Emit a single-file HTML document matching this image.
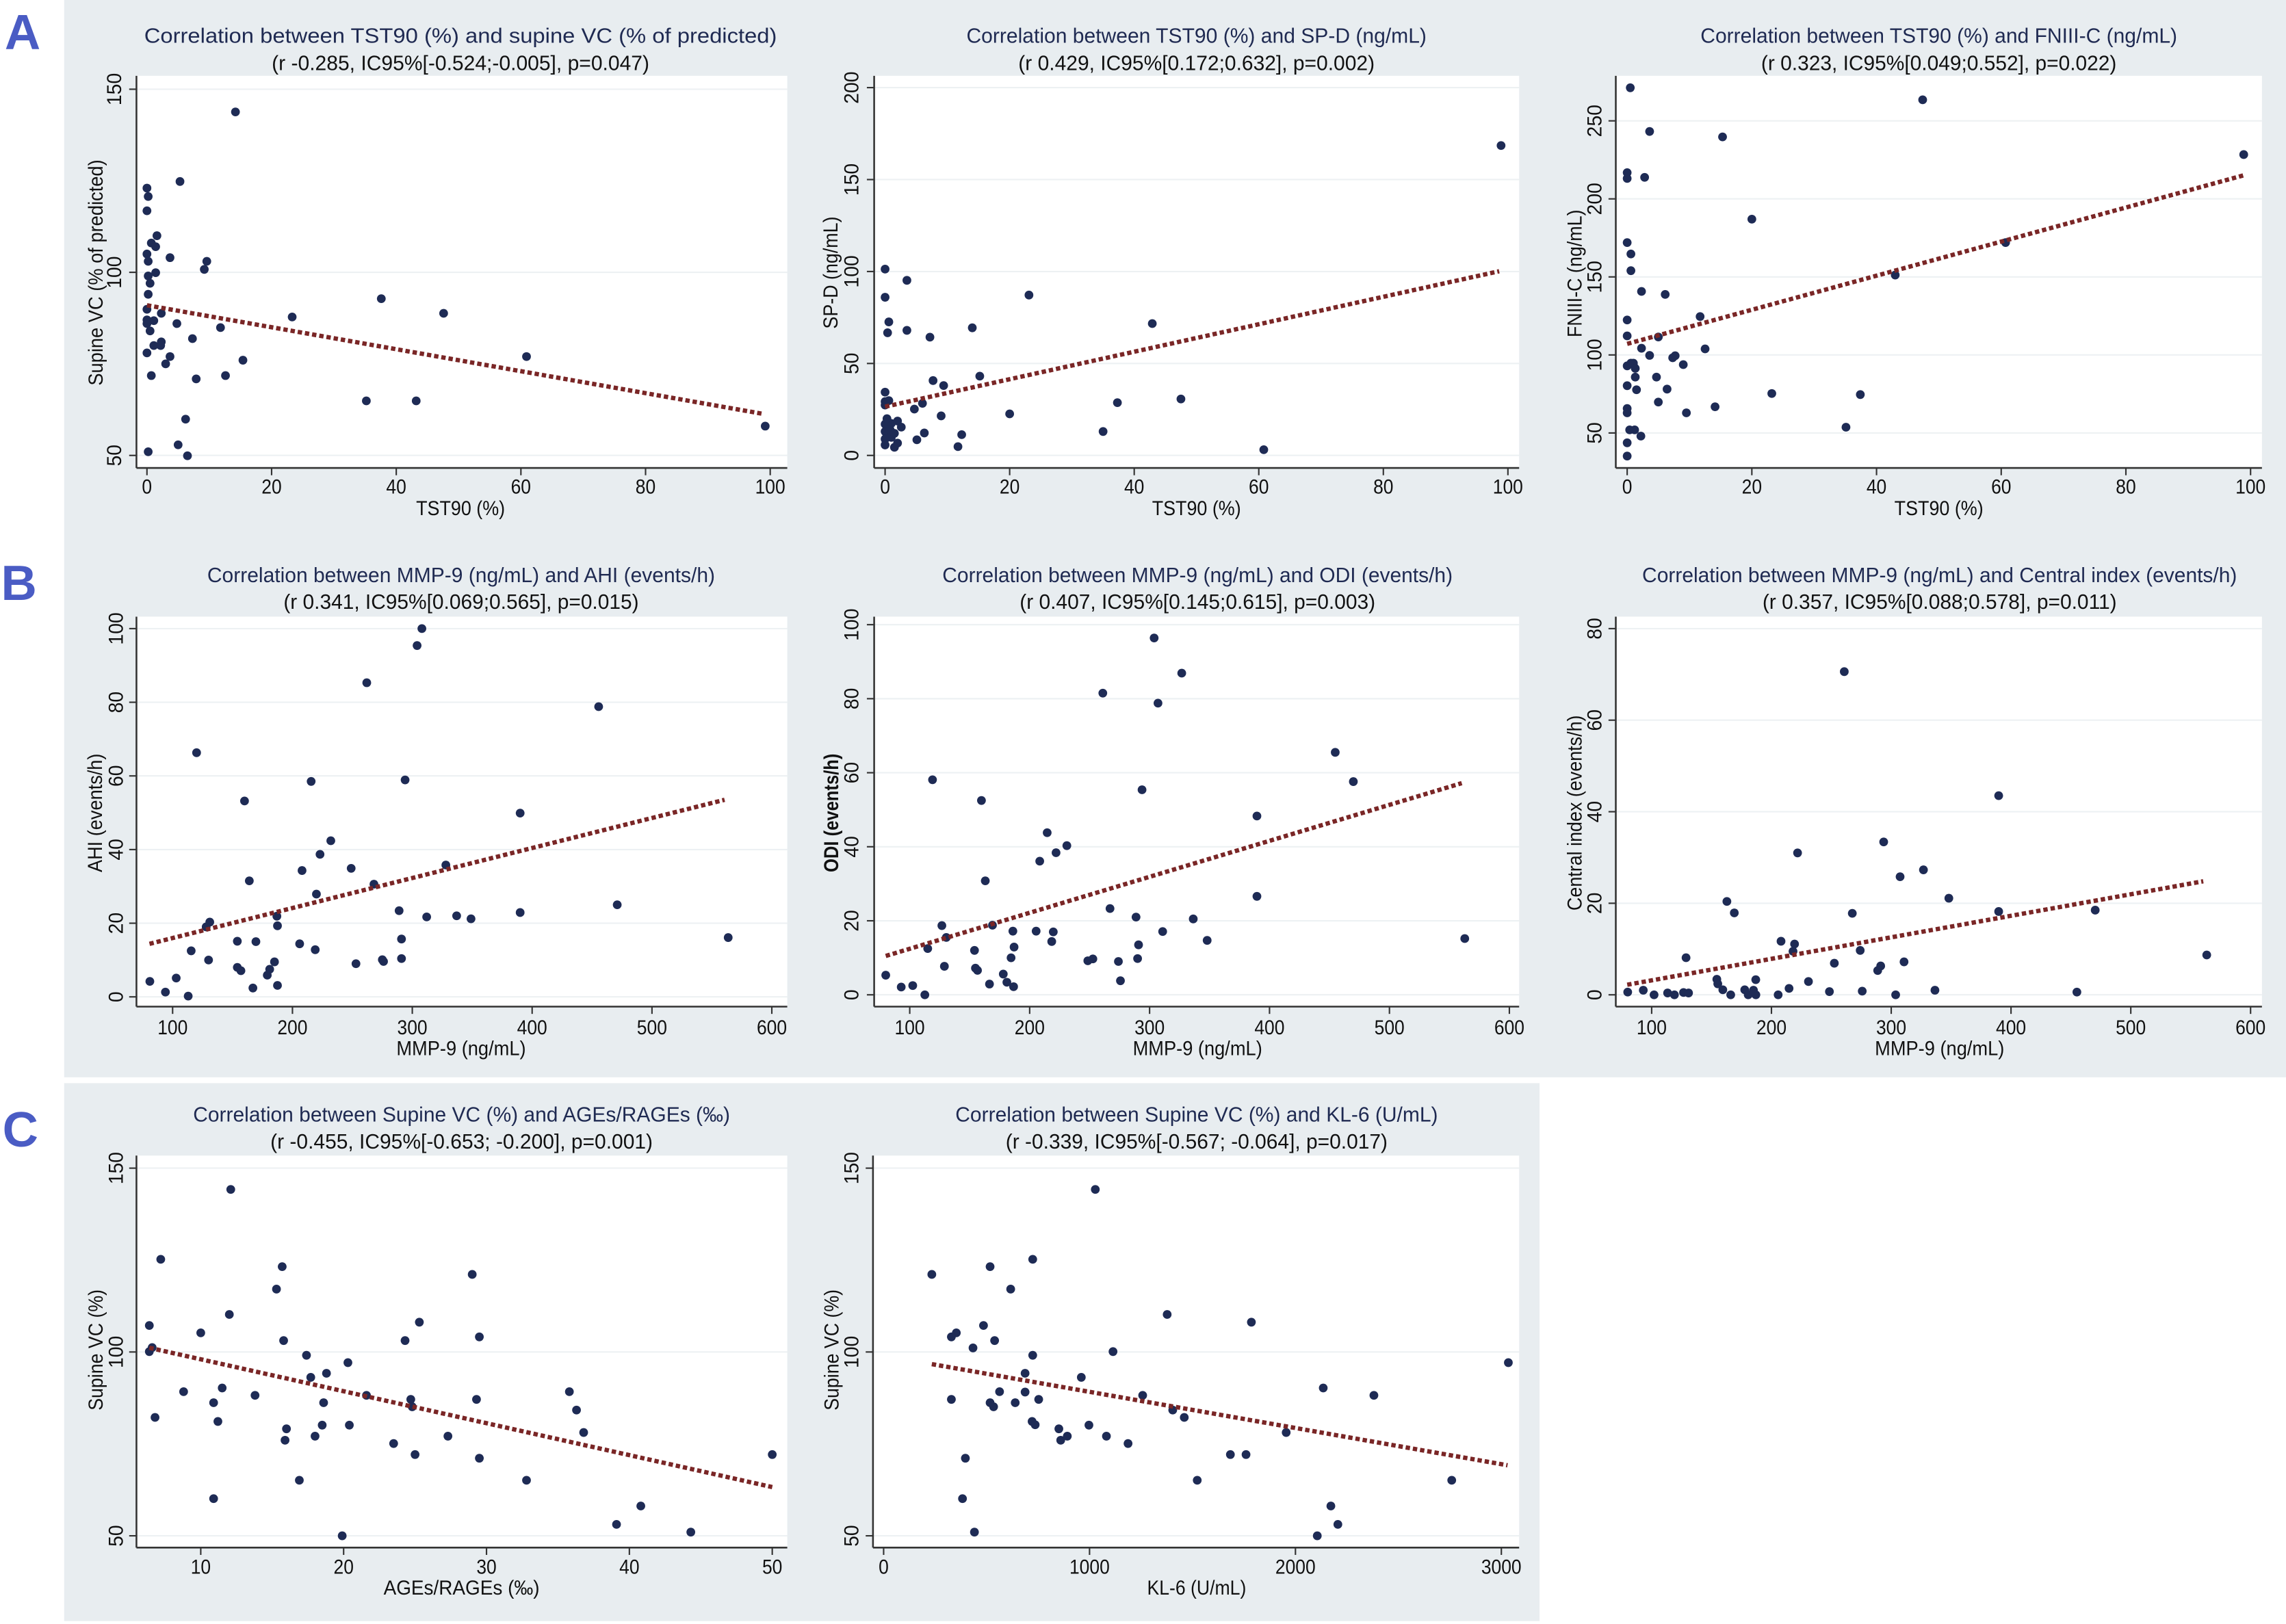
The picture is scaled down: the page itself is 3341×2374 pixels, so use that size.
<!DOCTYPE html>
<html><head><meta charset="utf-8"><title>Correlation panels</title>
<style>
html,body{margin:0;padding:0;background:#fff;}
svg{display:block;}
text{font-family:"Liberation Sans",Arial,sans-serif;}
</style></head>
<body>
<svg id="fig" xmlns="http://www.w3.org/2000/svg" width="3341" height="2374" viewBox="0 0 1568 1114" preserveAspectRatio="none">
<rect x="0" y="0" width="1568" height="1114" fill="#ffffff"/>
<rect x="44" y="0" width="1524" height="739" fill="#e8edf0"/>
<rect x="44" y="743" width="1012" height="369" fill="#e8edf0"/>
<text x="15.5" y="22" font-size="34" font-weight="bold" fill="#4a5cc4" text-anchor="middle" dominant-baseline="central">A</text>
<text x="13" y="400" font-size="34" font-weight="bold" fill="#4a5cc4" text-anchor="middle" dominant-baseline="central">B</text>
<text x="14" y="775" font-size="34" font-weight="bold" fill="#4a5cc4" text-anchor="middle" dominant-baseline="central">C</text>
</svg>
<script>
// ---------- DATA ----------
const A1X = [14.2,5.3,0,0.2,0,1.6,0.7,1.4,0,3.7,0.2,9.6,9.2,0.2,1.4,0.5,0.2,37.6,47.6,23.3,0,2.3,0,1.1,0,4.8,0.5,11.8,7.3,2.3,2.2,1.1,0,3.7,15.4,60.9,3,0.7,12.6,7.9,35.2,43.2,6.2,5,0.2,6.5,99.2];
const A1Y = [143.8,124.8,123,120.7,116.8,110,108,107,105,104,103,103,100.8,99,99.9,97,94,92.8,88.8,87.8,89.9,88.8,87,86.8,86,86,84,84.9,81.9,81,80,80,78,77,76,77,75,71.8,71.8,70.9,64.9,64.9,59.9,52.9,51,49.9,58];
const A1TREND = [91, -0.3, 0, 99];
const A1XTICKS = [0,20,40,60,80,100];
const A1YTICKS = [50,100,150];

const A2X = [98.9,0,3.5,0,23.1,0.6,0.4,3.5,7.2,14,42.9,15.2,7.7,9.4,0,0,0.6,0,6,4.7,37.3,47.5,20,9,0,1,2,2.6,0,0.4,6.3,12.3,35,0,1,5.1,2,0,1.5,11.7,60.8,0.8,1.5,0.3];
const A2Y = [168.5,101.3,95.2,86,87.2,72.6,66.7,68,64.3,69.4,71.7,43.1,40.7,38,34.4,29.3,29.8,27.4,28.3,25.2,28.7,30.7,22.6,21.5,17,17.4,18.7,15.4,13,11.7,12.2,11.3,13,8.9,9.8,8.5,6.7,5.7,4.4,4.8,3.1,14,12,20];
const A2TREND = [26.5, 0.747, 0, 98.6];
const A2XTICKS = [0,20,40,60,80,100];
const A2YTICKS = [0,50,100,150,200];

const A3X = [0.5,47.4,3.6,15.3,98.9,0,0,2.8,20,0,60.7,0.6,0.6,43,2.3,6.1,0,11.7,0,5,2.3,12.5,3.6,7.3,7.7,0,0.6,1,1.3,9,1.3,4.7,0,1.5,6.4,23.2,37.4,5,14.1,0,0,9.5,0.4,1.2,2.2,35.1,0,0];
const A3Y = [271.2,263.5,243.2,239.7,228.4,216.8,213.1,213.8,187,172,172,164.7,154,151.2,140.7,138.8,122.4,124.6,112.2,111.5,104.3,103.9,99.7,98.2,99.5,93,94.7,94.7,91.4,93.8,85.8,85.8,80.3,77.7,78.1,75.3,74.6,69.8,66.8,65.7,62.9,62.9,52,52,48,53.7,43.7,35.2];
const A3TREND = [107.1, 1.092, 0, 98.9];
const A3XTICKS = [0,20,40,60,80,100];
const A3YTICKS = [50,100,150,200,250];

const B1X = [308,304,262,455.5,120,215.6,294,160,390,232,223,328,249,208,164,268,220,471,289,390,312,337,349,187,187.5,131,128,563.6,291,154,169.5,206,219,115.5,130,185,291,275,276,253,154,157,181,179,81,103,187.5,167,94,113];
const B1Y = [100,95.4,85.3,78.8,66.3,58.5,58.9,53.2,49.9,42.4,38.7,35.8,34.9,34.3,31.5,30.6,27.9,25,23.4,22.9,21.7,22,21.2,21.9,19.3,20.3,19,16.1,15.7,15.1,15,14.4,12.8,12.5,10,9.5,10.4,10.1,9.6,9,8,7.1,7.5,5.9,4.2,5.1,3.1,2.4,1.3,0.2];
const B1TREND = [7.82, 0.0815, 80.7, 560.6];
const B1XTICKS = [100,200,300,400,500,600];
const B1YTICKS = [0,20,40,60,80,100];

const B2X = [303.8,326.8,261,307,454.8,469.9,119,293.7,159.8,389.5,214.6,231,222,208.4,163,389.5,267,288.7,336.4,126.8,169,186,205.4,219.7,310.9,130.5,562.8,348,218.4,187,290.8,115,154,184.5,252.7,248.5,274,290,128.9,154.8,156.5,178,80,166.5,181,186.6,275.7,92.9,102.5,112.6];
const B2Y = [96.4,86.9,81.5,78.8,65.5,57.6,58.1,55.4,52.5,48.3,43.8,40.3,38.4,36.1,30.8,26.6,23.3,21,20.5,18.7,18.8,17.2,17.2,17,17.1,15.5,15.2,14.7,14.4,12.9,13.5,12.5,12,10,9.7,9.2,9,9.8,7.7,7.2,6.6,5.6,5.3,2.9,3.4,2.2,3.8,2.1,2.5,0];
const B2TREND = [2.72, 0.0972, 80, 560.3];
const B2XTICKS = [100,200,300,400,500,600];
const B2YTICKS = [0,20,40,60,80,100];

const B3X = [260.8,389.7,293.7,221.8,326.9,307.4,348.1,162.8,169,267.5,389.7,470.3,208,219.3,218,274.1,563.4,128.7,310.7,252.5,291.2,288.7,154.4,155.2,186.9,230.9,214.7,80,93,102,113.3,119,126.6,130.8,159.4,166,177.7,180.6,185,187,205.6,248.4,275.8,303.7,336.5,455];
const B3Y = [70.6,43.5,33.4,31,27.3,25.8,21.1,20.4,17.9,17.8,18.2,18.5,11.7,11.1,9.5,9.7,8.7,8.1,7.2,6.9,6.3,5.3,3.4,2.4,3.3,2.9,1.4,0.6,1,0,0.4,0,0.5,0.4,1.1,0,1.1,0,1,0,0,0.7,0.8,0,1,0.6];
const B3TREND = [-1.54, 0.047, 79.6, 560.5];
const B3XTICKS = [100,200,300,400,500,600];
const B3YTICKS = [0,20,40,60,80];

const C1X = [12.1,7.2,15.7,29,15.3,12,25.3,6.4,10,29.5,15.8,24.3,6.6,6.4,17.4,20.3,17.7,18.8,11.5,8.8,13.8,21.6,24.7,29.3,35.8,10.9,18.6,24.8,36.3,6.8,11.2,18.5,20.4,16,36.8,18,27.3,15.9,23.5,25,29.5,50,16.9,32.8,10.9,40.8,39.1,44.3,19.9];
const C1Y = [144.2,125.2,123.2,121.1,117.1,110.2,108.1,107.2,105.2,104.1,103.1,103.1,101.2,100.1,99.1,97.1,93.1,94.2,90.2,89.2,88.2,88.2,87.1,87.1,89.2,86.2,86.2,85.1,84.2,82.2,81.1,80.1,80.1,79.1,78.1,77.1,77.1,76,75.1,72.1,71.1,72.1,65.1,65.1,60.1,58.1,53.1,51,50];
const C1TREND = [106.7, -0.869, 6.4, 50];
const C1XTICKS = [10,20,30,40,50];
const C1YTICKS = [50,100,150];

const C2X = [1028,724,517,234,617,1377,1786,485,353,329,539,434,1114,724,3034,687,960,2135,563,687,1258,2381,329,753,517,639,534,1404,1460,721,736,997,851,1955,892,1082,860,1187,397,1684,1760,1523,2759,383,2172,2206,441,2106];
const C2Y = [144.2,125.2,123.2,121.1,117.1,110.2,108.1,107.2,105.2,104.1,103.1,101.1,100.1,99.1,97.1,94.2,93.1,90.2,89.2,89.1,88.2,88.2,87.1,87.1,86.2,86.2,85.1,84.2,82.2,81.1,80.2,80.1,79.1,78.1,77.1,77.1,76,75.1,71.1,72.1,72.1,65.1,65.1,60.1,58.1,53.1,51,50];
const C2TREND = [99.0, -0.00984, 234, 3030];
const C2XTICKS = [0,1000,2000,3000];
const C2YTICKS = [50,100,150];

// ---------- LAYOUT (positions only) ----------
const rowA = {ay:321, top:52, tY:24.5, sY:43.2, tickLY:334, xtY:349};
const rowB = {ay:690.5, top:423, tY:394.3, sY:412.8, tickLY:705, xtY:719.3};
const rowC = {ay:1061.6, top:792.7, tY:764.5, sY:783, tickLY:1075, xtY:1089.3};

const panels = [
 {id:'a1', row:rowA, xs:A1X, ys:A1Y, tr:A1TREND, xt:A1XTICKS, yt:A1YTICKS,
  title:'Correlation between TST90 (%) and supine VC (% of predicted)', sub:'(r -0.285, IC95%[-0.524;-0.005], p=0.047)',
  xTitle:'TST90 (%)', yTitle:'Supine VC (% of predicted)',
  xa:[0,100.8,100,528.3], ya:[50,312.4,150,61.2], ax:93.6, right:540, cx:315.9, tW:434, sW:259, xtW:61, ytX:78.5, yttX:66, yttY:187, yttW:155, ytBold:false},
 {id:'a2', row:rowA, xs:A2X, ys:A2Y, tr:A2TREND, xt:A2XTICKS, yt:A2YTICKS,
  title:'Correlation between TST90 (%) and SP-D (ng/mL)', sub:'(r 0.429, IC95%[0.172;0.632], p=0.002)',
  xTitle:'TST90 (%)', yTitle:'SP-D (ng/mL)',
  xa:[0,607.1,100,1034.3], ya:[0,312.4,200,60.1], ax:599.6, right:1042, cx:820.7, tW:315.6, sW:244.4, xtW:61, ytX:584.4, yttX:570, yttY:187, yttW:77, ytBold:false},
 {id:'a3', row:rowA, xs:A3X, ys:A3Y, tr:A3TREND, xt:A3XTICKS, yt:A3YTICKS,
  title:'Correlation between TST90 (%) and FNIII-C (ng/mL)', sub:'(r 0.323, IC95%[0.049;0.552], p=0.022)',
  xTitle:'TST90 (%)', yTitle:'FNIII-C (ng/mL)',
  xa:[0,1116.1,100,1543.7], ya:[50,297,250,82.9], ax:1108.3, right:1551.5, cx:1329.9, tW:327, sW:243.8, xtW:61, ytX:1094, yttX:1080.3, yttY:187.6, yttW:87.6, ytBold:false},
 {id:'b1', row:rowB, xs:B1X, ys:B1Y, tr:B1TREND, xt:B1XTICKS, yt:B1YTICKS,
  title:'Correlation between MMP-9 (ng/mL) and AHI (events/h)', sub:'(r 0.341, IC95%[0.069;0.565], p=0.015)',
  xTitle:'MMP-9 (ng/mL)', yTitle:'AHI (events/h)',
  xa:[100,118.4,600,529.4], ya:[0,683.8,100,431.2], ax:93.6, right:540, cx:316.3, tW:348.3, sW:243.7, xtW:88.8, ytX:79.8, yttX:65.4, yttY:557.6, yttW:81.4, ytBold:false},
 {id:'b2', row:rowB, xs:B2X, ys:B2Y, tr:B2TREND, xt:B2XTICKS, yt:B2YTICKS,
  title:'Correlation between MMP-9 (ng/mL) and ODI (events/h)', sub:'(r 0.407, IC95%[0.145;0.615], p=0.003)',
  xTitle:'MMP-9 (ng/mL)', yTitle:'ODI (events/h)',
  xa:[100,624,600,1035.3], ya:[0,682.4,100,428.5], ax:599.6, right:1042, cx:821.4, tW:350, sW:244, xtW:88.8, ytX:584.4, yttX:570.5, yttY:557.6, yttW:81.4, ytBold:true},
 {id:'b3', row:rowB, xs:B3X, ys:B3Y, tr:B3TREND, xt:B3XTICKS, yt:B3YTICKS,
  title:'Correlation between MMP-9 (ng/mL) and Central index (events/h)', sub:'(r 0.357, IC95%[0.088;0.578], p=0.011)',
  xTitle:'MMP-9 (ng/mL)', yTitle:'Central index (events/h)',
  xa:[100,1132.9,600,1543.7], ya:[0,682.4,80,431.2], ax:1108.3, right:1551.5, cx:1330.4, tW:408, sW:243, xtW:88.8, ytX:1094, yttX:1080.3, yttY:557.6, yttW:134, ytBold:false},
 {id:'c1', row:rowC, xs:C1X, ys:C1Y, tr:C1TREND, xt:C1XTICKS, yt:C1YTICKS,
  title:'Correlation between Supine VC (%) and AGEs/RAGEs (\u2030)', sub:'(r -0.455, IC95%[-0.653; -0.200], p=0.001)',
  xTitle:'AGEs/RAGEs  (\u2030)', yTitle:'Supine VC (%)',
  xa:[10,137.7,50,529.7], ya:[50,1053.5,150,801.3], ax:93.6, right:540, cx:316.6, tW:368.3, sW:262.3, xtW:107, ytX:79.8, yttX:66, yttY:926, yttW:83, ytBold:false},
 {id:'c2', row:rowC, xs:C2X, ys:C2Y, tr:C2TREND, xt:C2XTICKS, yt:C2YTICKS,
  title:'Correlation between Supine VC (%) and KL-6 (U/mL)', sub:'(r -0.339, IC95%[-0.567; -0.064], p=0.017)',
  xTitle:'KL-6 (U/mL)', yTitle:'Supine VC (%)',
  xa:[0,606.1,3000,1029.8], ya:[50,1053.5,150,801.3], ax:598.8, right:1042, cx:820.8, tW:331, sW:262, xtW:68, ytX:584.4, yttX:570.8, yttY:926, yttW:83, ytBold:false}
];

const NS = 'http://www.w3.org/2000/svg';
const svg = document.getElementById('fig');
function mk(tag, attrs, parent){
  const e = document.createElementNS(NS, tag);
  for (const k in attrs) e.setAttribute(k, attrs[k]);
  parent.appendChild(e);
  return e;
}
function lin(a){ return v => a[1] + (v - a[0]) * (a[3] - a[1]) / (a[2] - a[0]); }

panels.forEach(p => {
  const R = p.row;
  const sx = lin(p.xa), sy = lin(p.ya);
  const g = mk('g', {}, svg);
  
  

  const bg = mk('rect', {x:p.ax, y:R.top, width:p.right - p.ax, height:R.ay - R.top, fill:'#ffffff'}, g);
  
  

  p.yt.forEach(v => {
    const gl = mk('line', {x1:p.ax, x2:p.right, y1:sy(v), y2:sy(v), stroke:'#edf1f3', 'stroke-width':1}, g);
    
    
  });

  const title = mk('text', {x:p.cx, y:R.tY, 'font-size':14.5, fill:'#1f2a52', 'text-anchor':'middle', 'dominant-baseline':'central', textLength:p.tW, lengthAdjust:'spacingAndGlyphs'}, g);
  title.textContent = p.title;
  
  
  const sub = mk('text', {x:p.cx, y:R.sY, 'font-size':14.5, fill:'#111', 'text-anchor':'middle', 'dominant-baseline':'central', textLength:p.sW, lengthAdjust:'spacingAndGlyphs'}, g);
  sub.textContent = p.sub;
  
  

  const yAxis = mk('line', {x1:p.ax, x2:p.ax, y1:R.top, y2:R.ay, stroke:'#333', 'stroke-width':1.2}, g);
  
  
  const xAxis = mk('line', {x1:p.ax, x2:p.right, y1:R.ay, y2:R.ay, stroke:'#333', 'stroke-width':1.2}, g);
  
  

  p.xt.forEach(v => {
    const t = mk('line', {x1:sx(v), x2:sx(v), y1:R.ay, y2:R.ay + 5, stroke:'#333', 'stroke-width':1}, g);
    
    
    const s = String(v);
    const l = mk('text', {x:sx(v), y:R.tickLY, 'font-size':14, fill:'#111', 'text-anchor':'middle', 'dominant-baseline':'central', textLength:s.length * 6.9, lengthAdjust:'spacingAndGlyphs'}, g);
    l.textContent = s;
    
    
  });
  p.yt.forEach(v => {
    const t = mk('line', {x1:p.ax - 5, x2:p.ax, y1:sy(v), y2:sy(v), stroke:'#333', 'stroke-width':1}, g);
    
    
    const s = String(v);
    const l = mk('text', {x:p.ytX, y:sy(v), 'font-size':14, fill:'#111', 'text-anchor':'middle', 'dominant-baseline':'central', textLength:s.length * 7.4, lengthAdjust:'spacingAndGlyphs', transform:'rotate(-90 ' + p.ytX + ' ' + sy(v) + ')'}, g);
    l.textContent = s;
    
    
  });

  const xt = mk('text', {x:p.cx, y:R.xtY, 'font-size':14, fill:'#111', 'text-anchor':'middle', 'dominant-baseline':'central', textLength:p.xtW, lengthAdjust:'spacingAndGlyphs'}, g);
  xt.textContent = p.xTitle;
  
  
  const yt = mk('text', {x:p.yttX, y:p.yttY, 'font-size':14, 'font-weight':(p.ytBold ? 'bold' : 'normal'), fill:'#111', 'text-anchor':'middle', 'dominant-baseline':'central', textLength:p.yttW, lengthAdjust:'spacingAndGlyphs', transform:'rotate(-90 ' + p.yttX + ' ' + p.yttY + ')'}, g);
  yt.textContent = p.yTitle;
  
  

  p.xs.forEach((xv, i) => {
    const c = mk('circle', {cx:sx(xv), cy:sy(p.ys[i]), r:3, fill:'#1e2b55'}, g);
    
    
  });

  const tr = p.tr;
  const ln = mk('line', {x1:sx(tr[2]), y1:sy(tr[0] + tr[1] * tr[2]), x2:sx(tr[3]), y2:sy(tr[0] + tr[1] * tr[3]), stroke:'#7a2626', 'stroke-width':3, 'stroke-dasharray':'3 2'}, g);
  
  
});
</script>
</body></html>
